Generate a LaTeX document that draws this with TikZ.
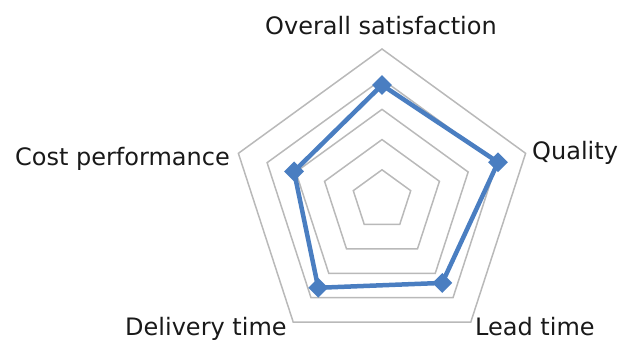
\documentclass[tikz,border=0pt]{standalone}
\usepackage{fontspec}
\setmainfont{DejaVu Sans}
\usetikzlibrary{shapes.geometric,calc}
\definecolor{gridgray}{RGB}{185,185,185}
\definecolor{serieblue}{RGB}{74,126,193}
\begin{document}
\begin{tikzpicture}[x=1pt,y=1pt,
  gridline/.style={draw=gridgray,line width=1.5pt,line join=miter},
  serie/.style={draw=serieblue,line width=4.5pt,line join=round},
  marker/.style={diamond,fill=serieblue,inner sep=0pt,minimum size=20pt},
  lbl/.style={inner sep=0pt,font=\fontsize{24}{28}\selectfont,text=black!90}]
\useasboundingbox (0,0) rectangle (619,344);
\coordinate (c) at (382,144);
\foreach \r in {30.2,60.4,90.6,120.8,151} {
  \draw[gridline] ($(c)+(90:\r)$) -- ($(c)+(18:\r)$) -- ($(c)+(-54:\r)$) -- ($(c)+(-126:\r)$) -- ($(c)+(162:\r)$) -- cycle;
}
\path (c) ++(90:115) coordinate (p1);
\path (c) ++(18:122) coordinate (p2);
\path (c) ++(-54:102.5) coordinate (p3);
\path (c) ++(-126:108.5) coordinate (p4);
\path (c) ++(162:92.5) coordinate (p5);
\draw[serie] (p1) -- (p2) -- (p3) -- (p4) -- (p5) -- cycle;
\foreach \p in {p1,p2,p3,p4,p5} { \node[marker] (m\p) at (\p) {}; }
\node[lbl,anchor=base] (overall) at (381,309) {Overall satisfaction};
\node[lbl,anchor=base west] (quality) at (532,184) {Quality};
\node[lbl,anchor=base east] (cost) at (230,178) {Cost performance};
\node[lbl,anchor=base west] (delivery) at (125,8) {Delivery time};
\node[lbl,anchor=base west] (lead) at (475,8) {Lead time};
\end{tikzpicture}
\end{document}
